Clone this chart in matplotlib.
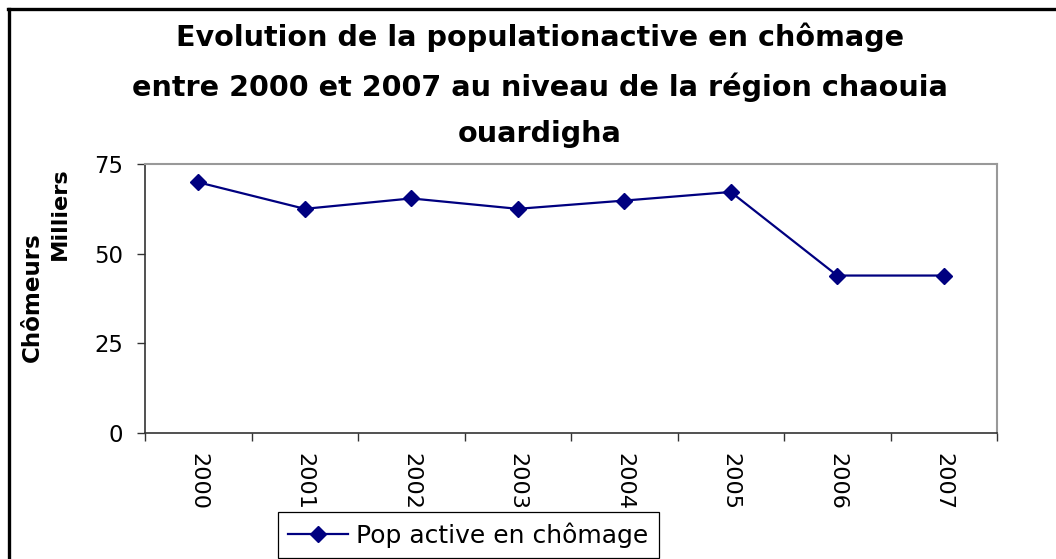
import matplotlib
matplotlib.use("Agg")
import matplotlib.pyplot as plt
from matplotlib.lines import Line2D

years = ["2000", "2001", "2002", "2003", "2004", "2005", "2006", "2007"]
chomeurs = [69.9, 62.5, 65.4, 62.5, 64.8, 67.2, 43.9, 43.9]
yticks = [0, 25, 50, 75]
series_label = "Pop active en chômage"
title = ("Evolution de la populationactive en chômage\n"
         "entre 2000 et 2007 au niveau de la région chaouia\n"
         "ouardigha")

plt.rcParams['font.family'] = ['DejaVu Sans']

W, H = 1056, 559
fig = plt.figure(figsize=(W / 100, H / 100), dpi=100)
fig.patch.set_facecolor('white')

def fx(px):
    return px / W

def fy(py):
    return 1 - py / H

ax = fig.add_axes([fx(145), fy(433), fx(997) - fx(145), fy(164) - fy(433)])
x = list(range(len(years)))
ax.plot(x, chomeurs, color='#000080', lw=1.6, marker='D', markersize=8.5,
        markerfacecolor='#000080', markeredgecolor='#000080', label=series_label)

ax.set_xlim(-0.5, len(years) - 0.5)
ax.set_ylim(0, 75)
ax.set_yticks(yticks)
ax.set_yticklabels([str(v) for v in yticks], fontsize=16.4)
ax.tick_params(axis='y', direction='out', length=6, width=1, color='#333333', pad=10)

ax.set_xticks(x)
ax.set_xticklabels(years, rotation=-90, fontsize=16.1)
ax.tick_params(axis='x', which='major', length=0, pad=14.5)
ax.set_xticks([i - 0.5 for i in range(len(years) + 1)], minor=True)
ax.tick_params(axis='x', which='minor', direction='out', length=6, width=1, color='#333333')

for s in ['left', 'bottom']:
    ax.spines[s].set_color('#333333')
    ax.spines[s].set_linewidth(1.2)
for s in ['top', 'right']:
    ax.spines[s].set_color('#999999')
    ax.spines[s].set_linewidth(1.5)

fig.text(fx(540), fy(142), title, ha='center', va='baseline', fontsize=20.6,
         fontweight='bold', linespacing=1.84, multialignment='center')

fig.text(fx(32), fy(297), "Chômeurs", rotation=90, ha='center', va='center',
         fontsize=16.6, fontweight='bold')
fig.text(fx(60), fy(214), "Milliers", rotation=90, ha='center', va='center',
         fontsize=16.2, fontweight='bold')

leg = ax.legend(loc='upper left', bbox_to_anchor=(fx(278), fy(512)),
                bbox_transform=fig.transFigure, fontsize=18, frameon=True,
                fancybox=False, shadow=False, framealpha=1, edgecolor='black',
                handlelength=2.38, handletextpad=0.36, borderpad=0.4,
                borderaxespad=0)
leg.get_frame().set_linewidth(0.9)

fig.add_artist(Line2D([fx(9), fx(9)], [fy(9.3), 0], transform=fig.transFigure,
                      color='black', lw=2.4))
fig.add_artist(Line2D([fx(7.8), 1], [fy(9.3), fy(9.3)], transform=fig.transFigure,
                      color='black', lw=2.4))

fig.savefig("out.png", dpi=100, facecolor='white')
